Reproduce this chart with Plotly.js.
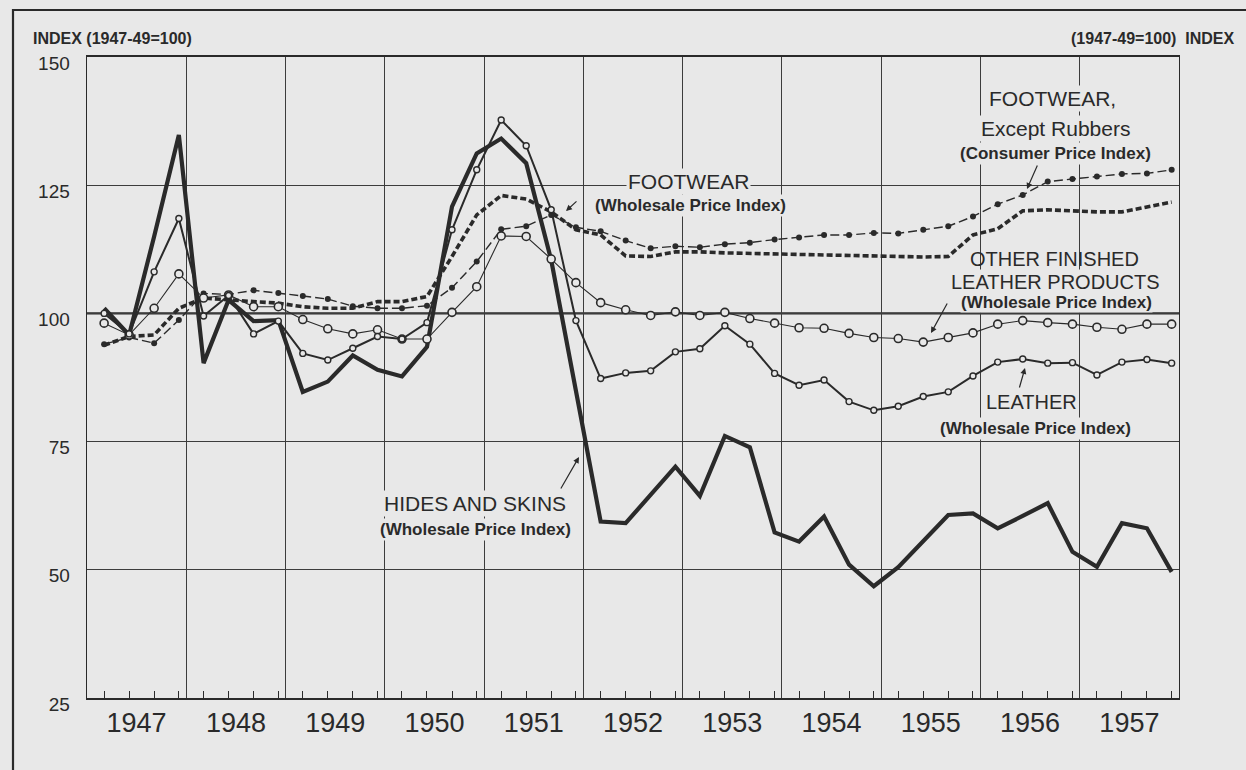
<!DOCTYPE html>
<html>
<head>
<meta charset="utf-8">
<script src="https://cdn.plot.ly/plotly-3.0.1.min.js"></script>
<style>
html, body { margin: 0; padding: 0; background: #e8e8e8; }
#chart { width: 1246px; height: 770px; }
</style>
</head>
<body>
<div id="chart"></div>
<script>
// ---- DATA (quarterly readings: Mar, Jun, Sep, Dec of each year) ----
const years = [1947, 1948, 1949, 1950, 1951, 1952, 1953, 1954, 1955, 1956, 1957];
const months = ['03', '06', '09', '12'];

const hidesAndSkins = [
  101.0, 95.8, 115.0, 134.8,
  90.3, 102.6, 98.5, 98.7,
  84.7, 86.7, 91.8, 89.0,
  87.7, 93.5, 120.8, 131.2,
  134.1, 129.3, 110.4, 84.9,
  59.4, 59.1, 64.6, 70.1,
  64.4, 76.1, 73.9, 57.3,
  55.5, 60.4, 51.0, 46.8,
  50.5, 55.5, 60.7, 61.0,
  58.1, 60.5, 63.0, 53.5,
  50.6, 59.1, 58.1, 49.6
];

const leather = [
  100.0, 96.0, 108.1, 118.5,
  99.5, 103.5, 96.0, 98.5,
  92.2, 90.9, 93.2, 95.5,
  95.0, 98.2, 116.3, 128.0,
  137.7, 132.7, 120.2, 98.6,
  87.3, 88.4, 88.8, 92.5,
  93.1, 97.6, 94.0, 88.3,
  86.0, 87.0, 82.8, 81.1,
  81.9, 83.8, 84.7, 87.8,
  90.5, 91.1, 90.3, 90.4,
  88.0, 90.5, 91.0, 90.3
];

const otherFinishedLeather = [
  98.1, 95.8, 101.0, 107.7,
  103.0, 103.6, 101.3, 101.3,
  98.8, 97.0, 96.0, 96.8,
  95.0, 95.0, 100.2, 105.2,
  115.1, 115.0, 110.6, 106.0,
  102.1, 100.7, 99.6, 100.3,
  99.6, 100.2, 99.0, 98.1,
  97.2, 97.1, 96.1, 95.3,
  95.1, 94.4, 95.3, 96.2,
  97.9, 98.6, 98.2, 97.9,
  97.3, 96.9, 97.9, 97.9
];

const footwearWholesale = [
  93.8, 95.5, 95.8, 101.0,
  103.0, 102.6, 102.3, 102.0,
  101.3, 101.0, 101.0, 102.3,
  102.3, 103.3, 111.1, 119.2,
  123.0, 122.3, 119.8, 116.3,
  115.3, 111.2, 111.1, 112.0,
  112.0, 111.8, 111.7, 111.6,
  111.5, 111.3, 111.2, 111.1,
  111.1, 111.0, 111.1, 115.3,
  116.5, 120.0, 120.2, 120.0,
  119.8, 119.8, 120.7, 121.7
];

const footwearConsumer = [
  94.0, 95.3, 94.2, 98.7,
  103.9, 103.7, 104.5, 104.0,
  103.4, 102.8, 101.4, 101.0,
  101.0, 101.5, 105.0, 110.1,
  116.4, 117.0, 119.2, 116.8,
  116.0, 114.2, 112.7, 113.1,
  112.9, 113.5, 113.8, 114.4,
  114.8, 115.3, 115.3, 115.7,
  115.6, 116.3, 117.0, 118.9,
  121.3, 123.1, 125.7, 126.2,
  126.7, 127.2, 127.3, 128.0
];

const yTicks = [25, 50, 75, 100, 125, 150];

// ---- build x (dates) from the year/month lists ----
const dates = [];
years.forEach(y => months.forEach(m => dates.push(y + '-' + m + '-05')));

// ---- styling ----
const BG = '#e8e8e8';
const INK = '#2a2a2a';
const FONT = 'Liberation Sans, Arial, sans-serif';

// plot area in pixels: left 87, right 1179, top 57, bottom 698
const L = 87, R = 1179, T = 57, B = 698;
const px = x => (x - L) / (R - L);
const py = y => (B - y) / (B - T);

const traces = [
  {
    x: dates, y: hidesAndSkins, name: 'Hides and skins', mode: 'lines',
    line: { color: INK, width: 4.2, shape: 'linear' }
  },
  {
    x: dates, y: footwearWholesale, name: 'Footwear (WPI)', mode: 'lines',
    line: { color: INK, width: 3.6, dash: '6px,3px' }
  },
  {
    x: dates, y: footwearConsumer, name: 'Footwear, except rubbers (CPI)', mode: 'lines+markers',
    line: { color: INK, width: 1.4, dash: '9px,4px' },
    marker: { symbol: 'circle', size: 6, color: INK }
  },
  {
    x: dates, y: otherFinishedLeather, name: 'Other finished leather products (WPI)', mode: 'lines+markers',
    line: { color: INK, width: 1.1 },
    marker: { symbol: 'circle', size: 8, color: BG, line: { color: INK, width: 1.6 } }
  },
  {
    x: dates, y: leather, name: 'Leather (WPI)', mode: 'lines+markers',
    line: { color: INK, width: 2.0 },
    marker: { symbol: 'circle', size: 6, color: BG, line: { color: INK, width: 1.4 } }
  }
];

function label(text, x, y, size, opts) {
  opts = opts || {};
  return Object.assign({
    xref: 'paper', yref: 'paper', x: px(x), y: py(y),
    xanchor: 'center', yanchor: 'middle', showarrow: false, text: text,
    font: { family: FONT, size: size, color: INK, weight: opts.bold ? 'bold' : 'normal' },
    borderpad: 1
  }, opts.bg ? { bgcolor: BG } : {}, opts.extra || {});
}

function arrow(hx, hy, tx, ty) {
  return {
    xref: 'paper', yref: 'paper', x: px(hx), y: py(hy),
    ax: tx - hx, ay: ty - hy, axref: 'pixel', ayref: 'pixel',
    text: '', showarrow: true, arrowhead: 2, arrowsize: 1, arrowwidth: 1.2,
    arrowcolor: INK, standoff: 0, startstandoff: 0
  };
}

const annotations = [
  label('INDEX (1947-49=100)', 32, 39, 16, { bold: true, extra: { xanchor: 'left', borderpad: 0 } }),
  label('(1947-49=100)\u00a0\u00a0INDEX', 1236, 39, 16, { bold: true, extra: { xanchor: 'right', borderpad: 0 } }),

  label('FOOTWEAR', 688, 181, 21, { bg: true }),
  label('(Wholesale Price Index)', 690, 206, 17, { bold: true, bg: true }),

  label('FOOTWEAR,', 1052, 98, 21, { bg: true }),
  label('Except Rubbers', 1055, 129, 21, { bg: true }),
  label('(Consumer Price Index)', 1055, 153, 17, { bold: true, bg: true }),

  label('OTHER FINISHED', 1054, 259, 20),
  label('LEATHER PRODUCTS', 1055, 282, 20, { bg: true }),
  label('(Wholesale Price Index)', 1056, 302, 17, { bold: true, bg: true, extra: { borderpad: 0 } }),

  label('LEATHER', 1031, 402, 20, { bg: true }),
  label('(Wholesale Price Index)', 1035, 428, 17, { bold: true, bg: true }),

  label('HIDES AND SKINS', 475, 503, 21, { bg: true }),
  label('(Wholesale Price Index)', 475, 529, 17, { bold: true, bg: true }),

  arrow(566, 211, 578, 200),
  arrow(1027, 189, 1038, 164),
  arrow(931, 333, 948, 302),
  arrow(1025, 368, 1019, 389),
  arrow(579, 457, 560, 490)
];

const layout = {
  width: 1246, height: 770,
  paper_bgcolor: BG, plot_bgcolor: BG,
  margin: { l: L, r: 1246 - R, t: T, b: 770 - B, pad: 0 },
  showlegend: false,
  font: { family: FONT, color: INK },
  xaxis: {
    type: 'date',
    range: ['1947-01-01', '1958-01-01'],
    tick0: '1947-01-01', dtick: 'M12', tickformat: '%Y',
    ticklabelmode: 'period',
    showgrid: true, gridcolor: '#3c3c3c', gridwidth: 1,
    showline: true, linecolor: INK, linewidth: 1.6, mirror: true,
    ticks: '', zeroline: false,
    tickfont: { family: FONT, size: 27, color: INK },
    ticklabelstandoff: 0,
    minor: { tick0: '1947-03-05', dtick: 'M3', ticks: 'inside', ticklen: 7, tickcolor: INK, tickwidth: 1, showgrid: false },
    fixedrange: true
  },
  yaxis: {
    range: [25, 150], tickvals: yTicks,
    showgrid: true, gridcolor: '#3c3c3c', gridwidth: 1,
    showline: true, linecolor: INK, linewidth: 1.4, mirror: true,
    ticks: '', zeroline: false,
    tickfont: { family: FONT, size: 19, color: INK },
    ticklabelstandoff: 12,
    ticklabelshift: 6,
    fixedrange: true
  },
  yaxis2: {
    overlaying: 'y', side: 'right',
    range: [25, 150], tickvals: yTicks,
    showgrid: false, showline: false, zeroline: false, ticks: '',
    tickfont: { family: FONT, size: 19, color: INK },
    ticklabelstandoff: 12,
    ticklabelshift: 6,
    fixedrange: true
  },
  shapes: [
    { type: 'line', xref: 'paper', yref: 'y', x0: 0, x1: 1, y0: 100, y1: 100,
      line: { color: INK, width: 2.2 }, layer: 'between' },
    { type: 'rect', xref: 'paper', yref: 'paper',
      x0: px(13), x1: px(1252), y0: py(778), y1: py(10),
      line: { color: INK, width: 2.2 }, fillcolor: 'rgba(0,0,0,0)', layer: 'above' }
  ],
  annotations: annotations
};

Plotly.newPlot('chart', traces, layout, { staticPlot: true, displayModeBar: false });
</script>
</body>
</html>
